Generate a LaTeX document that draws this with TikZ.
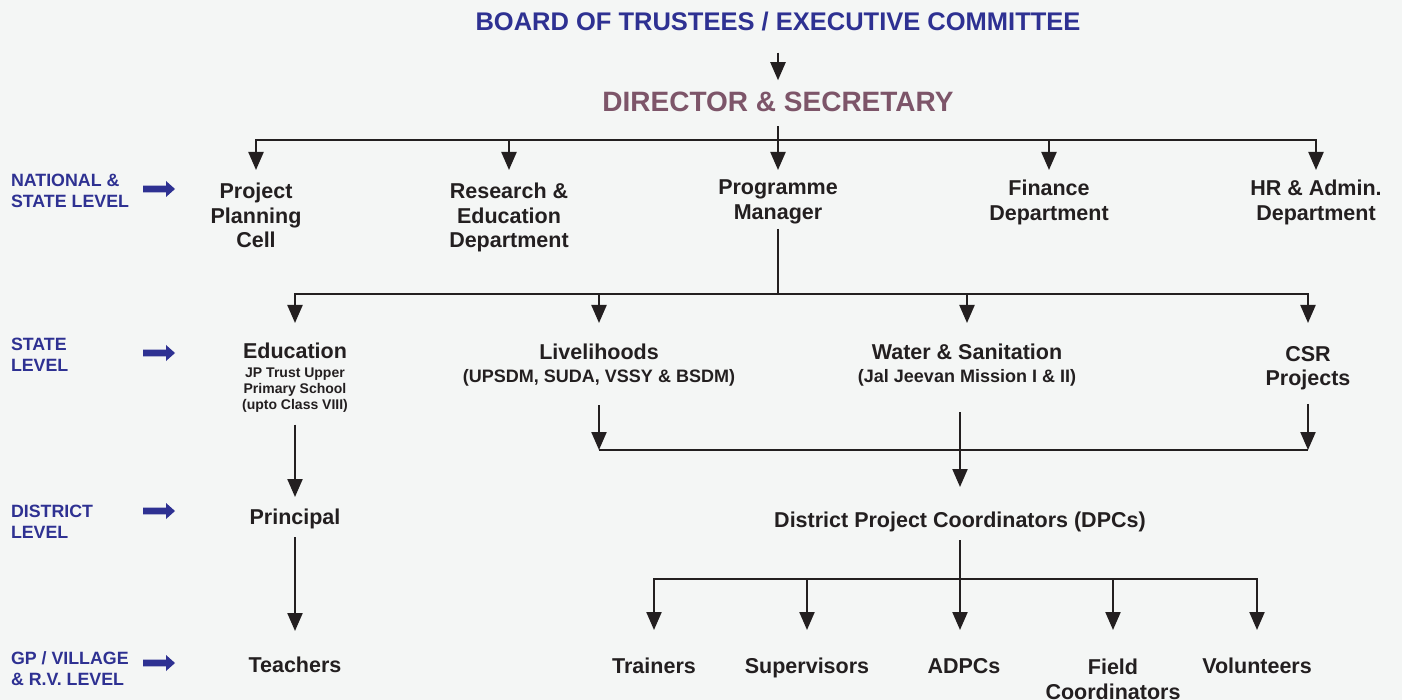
\documentclass[tikz,border=0pt]{standalone}
\usepackage{fontspec}
\setmainfont{Liberation Sans}
\usetikzlibrary{arrows.meta}
\definecolor{bg}{HTML}{F4F6F5}
\definecolor{ink}{HTML}{231F20}
\definecolor{navy}{HTML}{2E3192}
\definecolor{mauve}{HTML}{7D5569}
\begin{document}
\begin{tikzpicture}[x=1pt,y=-1pt,
  lbl/.style={inner sep=0pt, outer sep=0pt, text=ink, font=\bfseries\fontsize{21.5}{24.5}\selectfont, align=center, anchor=north},
  subl/.style={lbl, font=\bfseries\fontsize{18}{20}\selectfont},
  smalll/.style={lbl, font=\bfseries\fontsize{14}{16}\selectfont},
  lvl/.style={inner sep=0pt, outer sep=0pt, text=navy, font=\bfseries\fontsize{17.8}{21}\selectfont, align=left, anchor=north west},
  ln/.style={draw=ink, line width=2.2pt},
  arr/.style={ln, -{Triangle[length=18pt 0 0,width=15pt 0 0]}},
  bluearrow/.pic={\fill[navy] (0,-3.4) -- (23,-3.4) -- (23,-8) -- (32,0) -- (23,8) -- (23,3.4) -- (0,3.4) -- cycle;}
]
\fill[bg] (0,0) rectangle (1402,700);
\useasboundingbox (0,0) rectangle (1402,700);

% titles
\node[inner sep=0pt, anchor=base, text=navy, font=\bfseries\fontsize{25.5}{28}\selectfont] (title) at (778,31) {BOARD OF TRUSTEES / EXECUTIVE COMMITTEE};
\node[inner sep=0pt, anchor=base, text=mauve, font=\bfseries\fontsize{28}{32}\selectfont] (dir) at (778,112) {DIRECTOR \& SECRETARY};

% level labels
\node[lvl] (nat) at (11,174) {NATIONAL \&\\STATE LEVEL};
\node[lvl] (st) at (11,338) {STATE\\LEVEL};
\node[lvl] (dis) at (11,505) {DISTRICT\\LEVEL};
\node[lvl] (gp) at (11,652) {GP / VILLAGE\\\& R.V. LEVEL};
\pic at (143,189) {bluearrow};
\pic at (143,353) {bluearrow};
\pic at (143,511) {bluearrow};
\pic at (143,663) {bluearrow};

% level 1
\node[lbl] (ppc) at (256,183) {Project\\Planning\\Cell};
\node[lbl] (red) at (509,183) {Research \&\\Education\\Department};
\node[lbl] (pm) at (778,180) {Programme\\Manager};
\node[lbl] (fin) at (1049,180) {Finance\\Department};
\node[lbl] (hr) at (1316,180) {HR \& Admin.\\Department};

% level 2
\node[lbl] (edu) at (295,343) {Education};
\node[smalll] (edus) at (295,368) {JP Trust Upper\\Primary School\\(upto Class VIII)};
\node[lbl] (liv) at (599,344) {Livelihoods};
\node[subl] (livs) at (599,369.5) {(UPSDM, SUDA, VSSY \& BSDM)};
\node[lbl] (wat) at (967,344) {Water \& Sanitation};
\node[subl] (wats) at (967,369.5) {(Jal Jeevan Mission I \& II)};
\node[lbl] (csr) at (1308,346) {CSR\\Projects};

% level 3
\node[lbl] (prin) at (295,509) {Principal};
\node[lbl] (dpc) at (960,512) {District Project Coordinators (DPCs)};

% level 4
\node[lbl] (teach) at (295,657) {Teachers};
\node[lbl] (train) at (654,658) {Trainers};
\node[lbl] (sup) at (807,658) {Supervisors};
\node[lbl] (adpc) at (964,658) {ADPCs};
\node[lbl] (field) at (1113,659) {Field\\Coordinators};
\node[lbl] (vol) at (1257,658) {Volunteers};

% connectors
\draw[arr] ([yshift=-21pt]title.south) -- ([yshift=12pt]dir.north);

\coordinate (b1) at (778,140);
\draw[ln] ([yshift=-14pt]dir.south) -- (b1);
\draw[arr] (b1) -| ([yshift=13pt]ppc.north);
\draw[arr] (b1) -| ([yshift=10pt]hr.north);
\draw[arr] (red.north |- b1) -- ([yshift=13pt]red.north);
\draw[arr] (b1) -- ([yshift=10pt]pm.north);
\draw[arr] (fin.north |- b1) -- ([yshift=10pt]fin.north);

\coordinate (b2) at (778,294);
\draw[ln] ([yshift=-5pt]pm.south) -- (b2);
\draw[arr] (b2) -| ([yshift=20pt]edu.north);
\draw[arr] (b2) -| ([yshift=23pt]csr.north);
\draw[arr] (liv.north |- b2) -- ([yshift=21pt]liv.north);
\draw[arr] (wat.north |- b2) -- ([yshift=21pt]wat.north);

\coordinate (b3) at (960,450);
\draw[arr] ([yshift=-19pt]livs.south) -- (livs.south |- b3);
\draw[arr] ([yshift=-14pt]csr.south) -- (csr.south |- b3);
\draw[ln] (livs.south |- b3) -- (csr.south |- b3);
\coordinate (w0) at ([yshift=-26pt]wats.south);
\draw[arr] (w0 -| dpc.north) -- ([yshift=25pt]dpc.north);

\draw[arr] ([yshift=-12pt]edus.south) -- ([yshift=12pt]prin.north);
\draw[arr] ([yshift=-8pt]prin.south) -- ([yshift=26pt]teach.north);

\coordinate (b4) at (960,579);
\coordinate (at) at ([yshift=28pt]adpc.north);
\draw[ln] ([yshift=-8pt]dpc.south) -- (b4);
\draw[arr] (b4) -| ([yshift=28pt]train.north);
\draw[arr] (b4) -| ([yshift=28pt]vol.north);
\draw[arr] (sup.north |- b4) -- ([yshift=28pt]sup.north);
\draw[arr] (b4) -- (b4 |- at);
\draw[arr] (field.north |- b4) -- ([yshift=29pt]field.north);
\end{tikzpicture}
\end{document}
